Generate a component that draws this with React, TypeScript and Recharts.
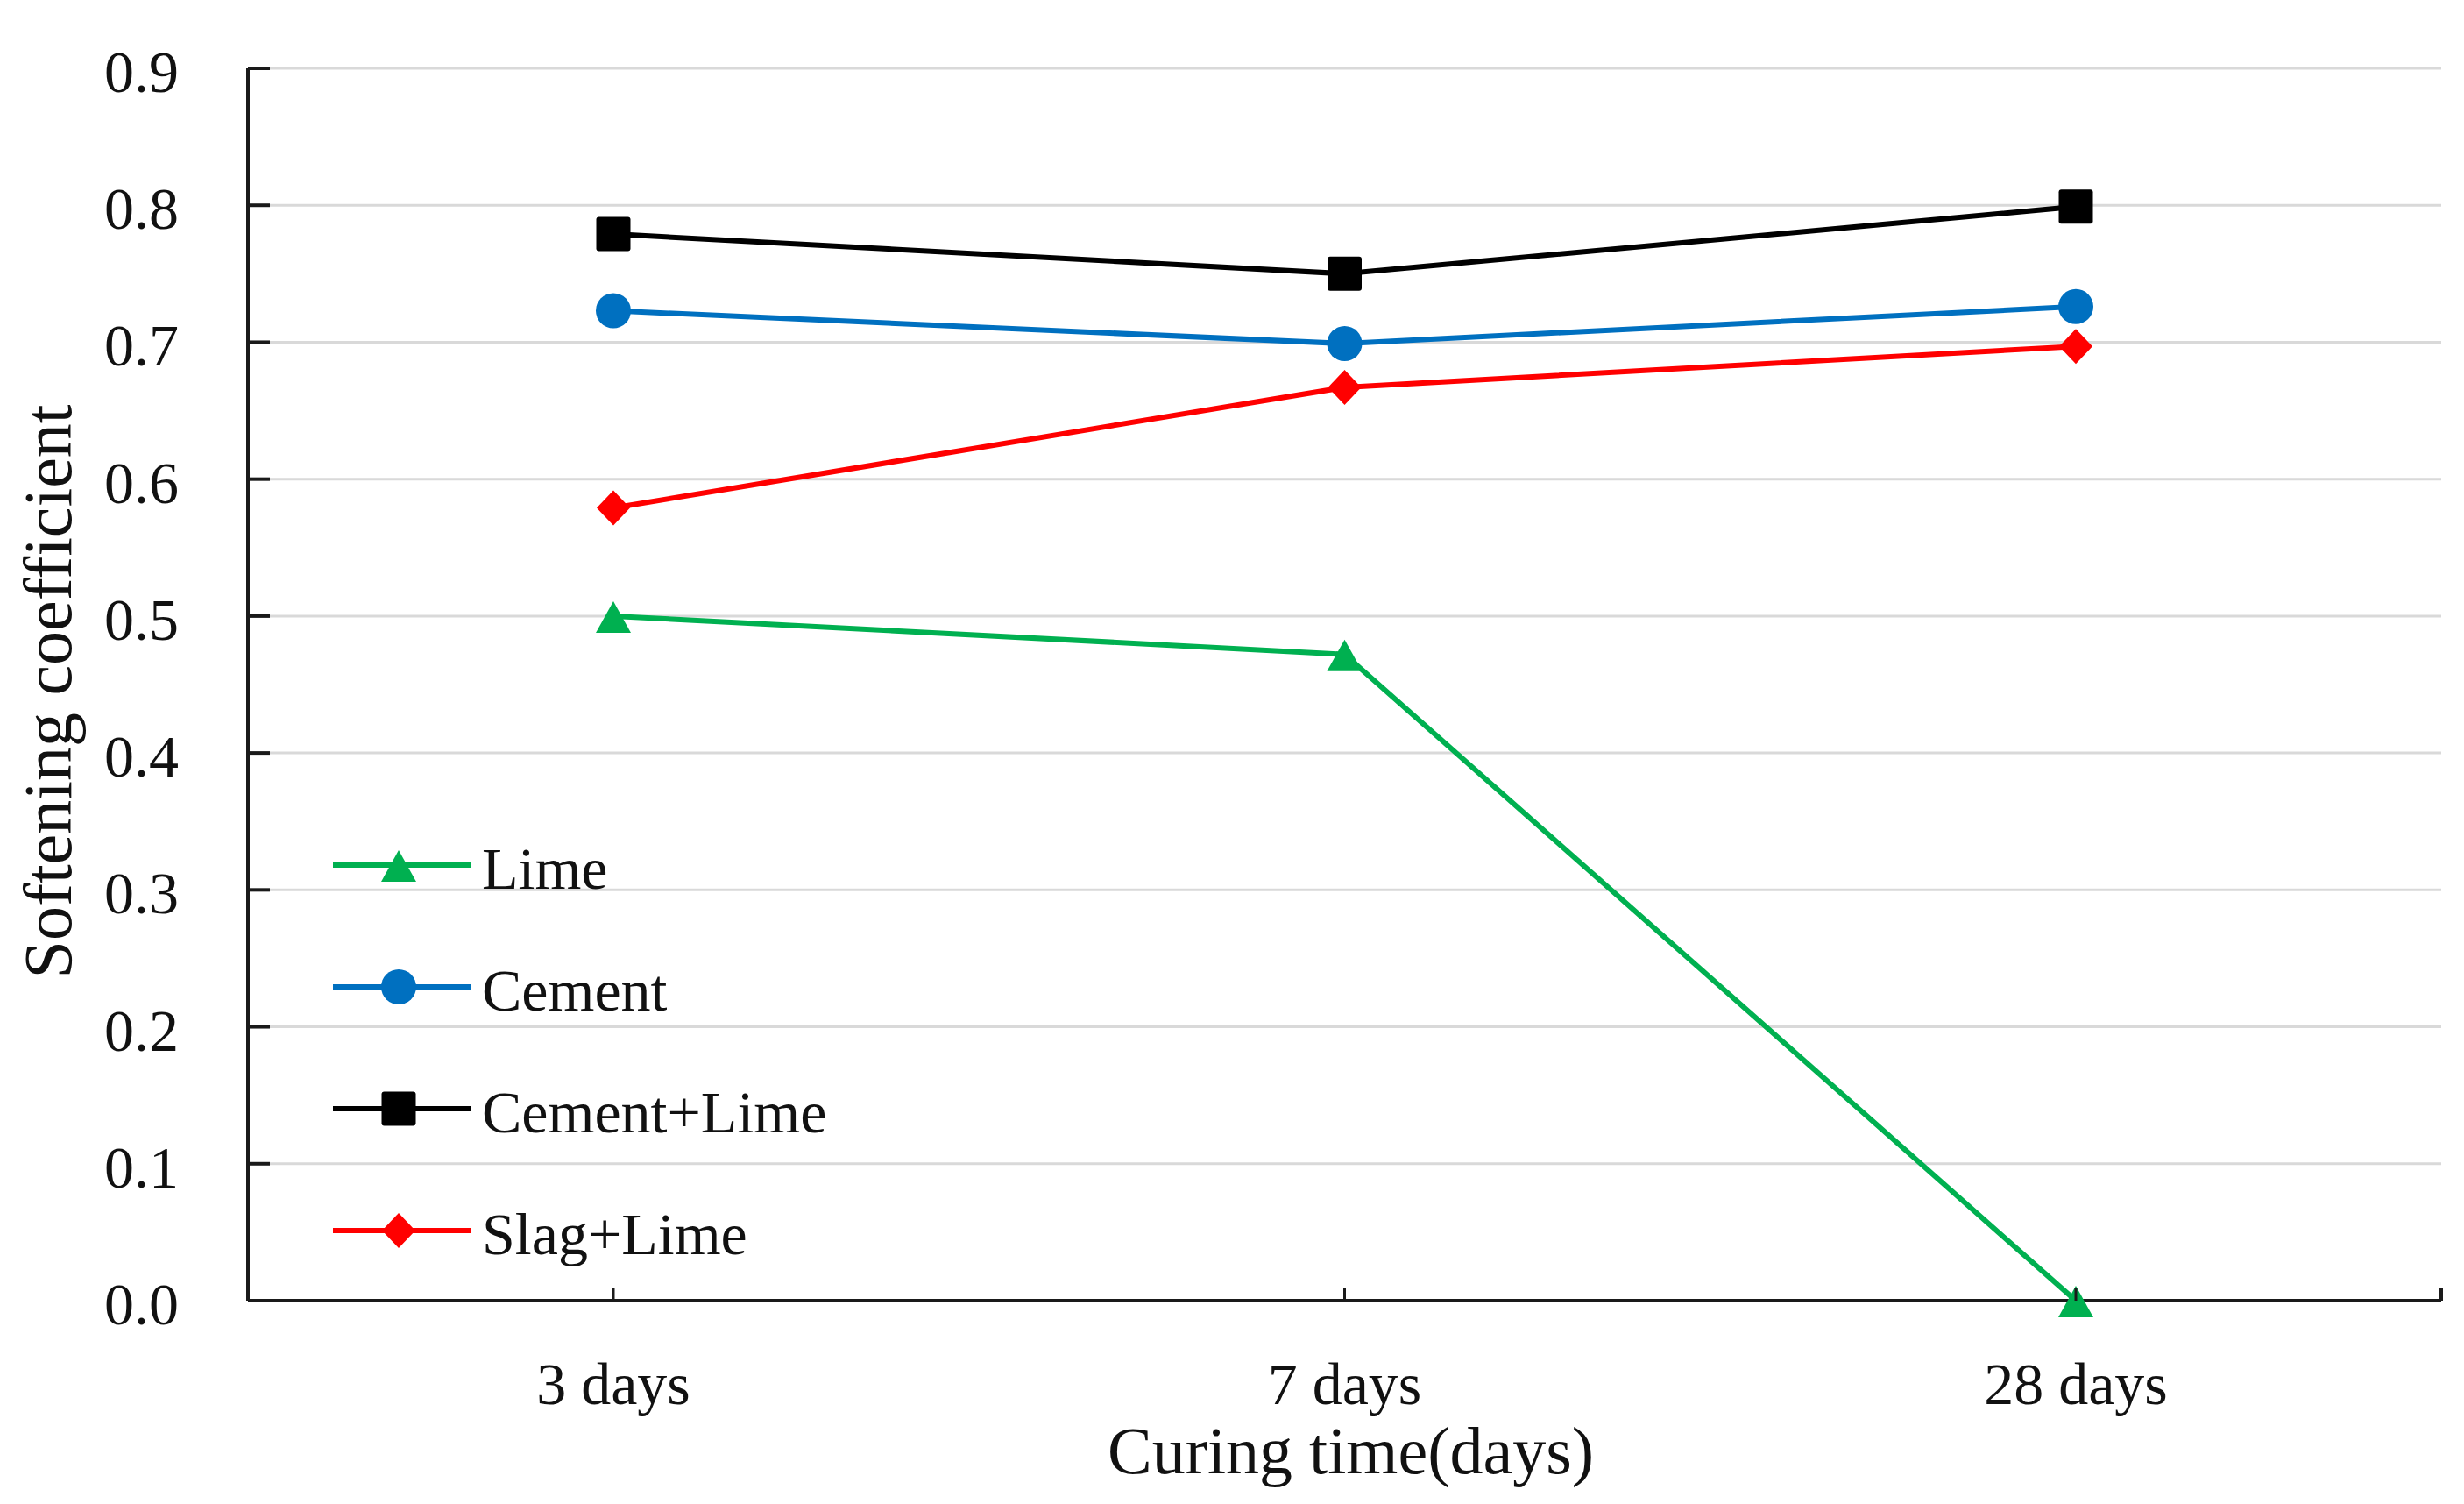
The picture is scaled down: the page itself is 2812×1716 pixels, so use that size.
import { LineChart, Line, XAxis, YAxis, CartesianGrid, Legend } from "recharts";

const categories = ["3 days", "7 days", "28 days"];
const lime = [0.5, 0.472, 0];
const cement = [0.723, 0.699, 0.726];
const cementLime = [0.779, 0.75, 0.799];
const slagLime = [0.579, 0.667, 0.697];
const yTicks = [0, 0.1, 0.2, 0.3, 0.4, 0.5, 0.6, 0.7, 0.8, 0.9];

const FONT = '"Liberation Serif", "Times New Roman", serif';
const AXIS = "#1a1a1a";
const GRID = "#d9d9d9";
const PAD = 417;

const W = 2796;
const H = 1708;
const MARGIN = { top: 70, right: 18, left: 100, bottom: 82 };
const X_AXIS_H = 150;
const AXIS_Y = H - MARGIN.bottom - X_AXIS_H;

const SERIES = [
  { key: "lime", name: "Lime", color: "#00B050", shape: "triangle" },
  { key: "cement", name: "Cement", color: "#0070C0", shape: "circle" },
  { key: "cementLime", name: "Cement+Lime", color: "#000000", shape: "square" },
  { key: "slagLime", name: "Slag+Lime", color: "#FF0000", shape: "diamond" },
];

const data = categories.map((cat, i) => ({
  cat,
  lime: lime[i],
  cement: cement[i],
  cementLime: cementLime[i],
  slagLime: slagLime[i],
}));

function Marker({ shape, cx, cy, color }: { shape: string; cx: number; cy: number; color: string }) {
  if (shape === "circle") return <circle cx={cx} cy={cy} r={20} fill={color} />;
  if (shape === "square")
    return <rect x={cx - 19.5} y={cy - 19.5} width={39} height={39} rx={3} fill={color} />;
  if (shape === "diamond")
    return <polygon points={`${cx},${cy - 20} ${cx + 19},${cy} ${cx},${cy + 20} ${cx - 19},${cy}`} fill={color} />;
  return <polygon points={`${cx},${cy - 17} ${cx + 20},${cy + 19} ${cx - 20},${cy + 19}`} fill={color} />;
}

const dotFor = (shape: string, color: string) => (props: any) => {
  if (props.cx == null || props.cy == null) return <g key={props.index} />;
  return (
    <g key={`${shape}-${props.index}`}>
      <Marker shape={shape} cx={props.cx} cy={props.cy} color={color} />
    </g>
  );
};

function YTick({ x, y, payload }: any) {
  return (
    <g>
      <line x1={x} x2={x + 25} y1={y} y2={y} stroke={AXIS} strokeWidth={4} />
      <text x={x - 79} y={y + 4} textAnchor="end" dominantBaseline="central" fontSize={68} fontFamily={FONT} fill="#111">
        {Number(payload.value).toFixed(1)}
      </text>
    </g>
  );
}

function XTick({ x, payload, index }: any) {
  const y = AXIS_Y;
  return (
    <g>
      <line x1={x} x2={x} y1={y} y2={y - 15} stroke={AXIS} strokeWidth={3} />
      {index === categories.length - 1 && (
        <line x1={x + PAD} x2={x + PAD} y1={y} y2={y - 15} stroke={AXIS} strokeWidth={4} />
      )}
      <text x={x} y={y + 95} textAnchor="middle" dominantBaseline="central" fontSize={68} fontFamily={FONT} fill="#111">
        {payload.value}
      </text>
    </g>
  );
}

function LegendBox() {
  return (
    <svg width={700} height={560}>
      {SERIES.map((s, i) => {
        const cy = 70 + i * 139;
        return (
          <g key={s.key}>
            <line x1={0} x2={157} y1={cy} y2={cy} stroke={s.color} strokeWidth={6} />
            <Marker shape={s.shape} cx={75} cy={cy} color={s.color} />
            <text x={170} y={cy + 4} dominantBaseline="central" fontSize={68} fontFamily={FONT} fill="#111">
              {s.name}
            </text>
          </g>
        );
      })}
    </svg>
  );
}

export default function App() {
  return (
    <div style={{ width: W, height: H, background: "#fff" }}>
      <LineChart width={W} height={H} data={data} margin={MARGIN}>
        <CartesianGrid vertical={false} stroke={GRID} strokeWidth={3} />
        <XAxis
          dataKey="cat"
          type="category"
          scale="point"
          padding={{ left: PAD, right: PAD }}
          height={X_AXIS_H}
          tickSize={0}
          tickMargin={0}
          tickLine={false}
          axisLine={{ stroke: AXIS, strokeWidth: 4 }}
          tick={<XTick />}
          label={{
            content: ({ viewBox }: any) => (
              <text
                x={viewBox.x + viewBox.width / 2 + 7}
                y={AXIS_Y + 171}
                textAnchor="middle"
                dominantBaseline="central"
                fontSize={76}
                fontFamily={FONT}
                fill="#111"
              >
                Curing time(days)
              </text>
            ),
          }}
        />
        <YAxis
          domain={[0, 0.9]}
          ticks={yTicks}
          width={175}
          tickSize={0}
          tickMargin={0}
          tickLine={false}
          axisLine={{ stroke: AXIS, strokeWidth: 4 }}
          tick={<YTick />}
          label={{
            content: ({ viewBox }: any) => {
              const cx = viewBox.x - 54;
              const cy = viewBox.y + viewBox.height / 2 + 8;
              return (
                <text
                  x={cx}
                  y={cy}
                  transform={`rotate(-90, ${cx}, ${cy})`}
                  textAnchor="middle"
                  dominantBaseline="central"
                  fontSize={78}
                  fontFamily={FONT}
                  fill="#111"
                >
                  Softening coefficient
                </text>
              );
            },
          }}
        />
        <Legend
          layout="vertical"
          align="center"
          verticalAlign="middle"
          wrapperStyle={{ left: 372, top: 909 }}
          content={() => <LegendBox />}
        />
        {SERIES.map((s) => (
          <Line
            key={s.key}
            dataKey={s.key}
            name={s.name}
            stroke={s.color}
            strokeWidth={6}
            dot={dotFor(s.shape, s.color)}
            activeDot={false}
            isAnimationActive={false}
          />
        ))}
      </LineChart>
    </div>
  );
}
